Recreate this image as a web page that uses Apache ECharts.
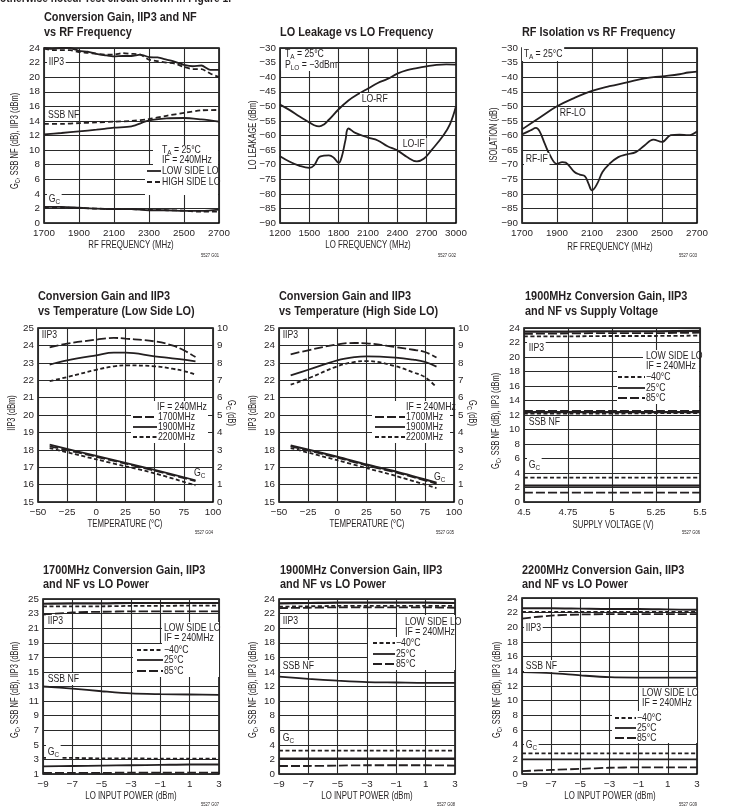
<!DOCTYPE html>
<html><head><meta charset="utf-8"><title>Typical performance curves</title>
<script src="https://cdn.jsdelivr.net/npm/echarts@6.0.0/dist/echarts.min.js"></script>
<style>html,body{margin:0;padding:0;background:#fff;}#chart{width:752px;height:807px;}</style>
</head><body><div id="chart"></div>
<script>
// ================= DATA =================
// Panel 1: Conversion Gain, IIP3 and NF vs RF Frequency
const p1IipX   = [1700,1750,1800,1850,1900,1950,2000,2050,2100,2150,2200,2250,2300,2350,2400,2450,2500,2550,2600,2650,2700];
const p1IipLow = [24.0,23.87,24.0,24.0,23.6,23.5,23.2,23.0,22.85,22.9,22.9,23.1,22.75,22.7,22.4,22.1,21.7,21.5,21.6,21.0,21.0];
const p1IipHigh= [23.9,23.7,23.7,23.7,23.45,23.35,23.2,23.1,23.1,23.3,23.2,23.1,22.4,22.2,22.0,21.85,21.4,21.1,21.1,20.5,20.0];
const p1X      = [1700,1800,1900,2000,2100,2200,2300,2400,2500,2600,2700];
const p1NfLow  = [12.16,12.34,12.57,12.8,13.07,13.26,14.06,14.35,14.4,14.2,13.9];
const p1NfHigh = [13.6,13.6,13.7,13.8,13.9,14.0,14.26,14.7,15.1,15.45,15.5];
const p1GcLow  = [2.2,2.2,2.1,1.97,1.9,1.9,1.75,1.75,1.65,1.65,1.83];
const p1GcHigh = [2.1,2.1,2.05,1.97,1.92,1.9,1.83,1.75,1.7,1.55,1.55];
// Panel 2: LO Leakage vs LO Frequency
const p2RfX  = [1200,1300,1400,1500,1550,1600,1650,1700,1800,1900,2000,2100,2200,2300,2400,2500,2600,2700,2800,2900,3000];
const p2LoRf = [-49.4,-51.3,-53.5,-55.5,-56.5,-56.9,-56.2,-54.6,-51.0,-48.0,-45.8,-43.9,-42.0,-40.6,-38.8,-37.6,-36.9,-36.3,-35.8,-35.6,-35.7];
const p2IfX  = [1200,1300,1400,1500,1550,1600,1650,1700,1750,1800,1830,1870,1900,1970,2100,2200,2300,2400,2500,2600,2670,2750,2870,2940,3000];
const p2LoIf = [-67.1,-69.0,-70.4,-71.1,-70.2,-67.4,-66.9,-66.8,-67.6,-69.4,-67.5,-61.5,-57.6,-59.1,-60.7,-61.7,-63.7,-65.1,-67.4,-68.9,-68.0,-65.0,-60.0,-56.0,-50.0];
// Panel 3: RF Isolation vs RF Frequency
const p3LoX  = [1700,1800,1900,2000,2100,2200,2300,2400,2500,2600,2650,2700];
const p3RfLo = [-57.9,-53.9,-50.0,-47.1,-44.7,-43.1,-41.8,-40.4,-39.7,-39.0,-38.4,-38.1];
const p3IfX  = [1700,1750,1780,1800,1830,1860,1900,1930,1950,2000,2030,2060,2080,2100,2130,2160,2200,2250,2300,2350,2400,2450,2500,2550,2600,2650,2700];
const p3RfIf = [-59.6,-58.2,-57.4,-58.5,-62.8,-66.8,-69.7,-69.1,-69.3,-72.5,-73.4,-74.0,-76.5,-78.8,-76.5,-72.5,-69.7,-67.4,-66.5,-65.7,-63.4,-61.4,-62.2,-59.9,-59.7,-59.9,-58.6];
// Panel 4 & 5: vs temperature
const tempX    = [-40,-25,0,15,25,50,65,75,85];
const p4Iip1700= [23.89,24.1,24.33,24.43,24.39,24.23,24.0,23.72,23.33];
const p4Iip1900= [22.9,23.14,23.43,23.58,23.58,23.37,23.26,23.18,23.08];
const p4Iip2200= [21.95,22.18,22.6,22.8,22.85,22.8,22.66,22.53,22.32];
const tempGcX  = [-40,0,25,50,85];
const p4Gc1700 = [3.2,2.6,2.2,1.8,1.2];
const p4Gc1900 = [3.3,2.65,2.25,1.85,1.25];
const p4Gc2200 = [3.1,2.45,2.05,1.65,0.95];
const p5Iip1700= [23.49,23.72,24.06,24.14,24.12,23.9,23.75,23.62,23.3];
const p5Iip1900= [22.28,22.6,23.14,23.33,23.37,23.3,23.18,23.05,22.78];
const p5Iip2200= [21.74,22.1,22.8,23.05,23.1,22.8,22.45,22.18,21.6];
const p5Gc1700 = [3.2,2.55,2.1,1.7,1.05];
const p5Gc1900 = [3.25,2.6,2.15,1.75,1.1];
const p5Gc2200 = [3.1,2.4,1.95,1.5,0.8];
// Panel 6: vs supply voltage
const voltX     = [4.5,4.75,5,5.25,5.5];
const p6IipM40  = [22.85,22.85,22.9,22.9,22.95];
const p6Iip25   = [23.5,23.5,23.55,23.55,23.6];
const p6Iip85   = [23.2,23.25,23.3,23.3,23.35];
const p6NfM40   = [12.2,12.2,12.2,12.25,12.25];
const p6Nf25    = [12.4,12.4,12.4,12.4,12.4];
const p6Nf85    = [12.55,12.55,12.55,12.55,12.55];
const p6GcM40   = [3.35,3.35,3.35,3.35,3.35];
const p6Gc25    = [2.25,2.25,2.25,2.25,2.25];
const p6Gc85    = [1.3,1.3,1.3,1.3,1.3];
// Panels 7-9: vs LO power
const loX       = [-9,-7,-5,-3,-1,1,3];
const p7IipM40  = [24.0,24.0,24.0,24.05,24.05,24.1,24.1];
const p7Iip25   = [24.35,24.4,24.4,24.45,24.45,24.45,24.45];
const p7Iip85   = [22.85,23.15,23.25,23.3,23.3,23.3,23.3];
const p7Nf25    = [13.0,12.7,12.35,12.05,11.95,11.9,11.85];
const p7GcM40   = [3.2,3.2,3.15,3.15,3.1,3.1,3.1];
const p7Gc25    = [2.05,2.1,2.15,2.2,2.25,2.3,2.3];
const p7Gc85    = [1.15,1.15,1.15,1.2,1.2,1.2,1.2];
const p8IipM40  = [22.95,23.0,23.05,23.05,23.05,23.05,23.05];
const p8Iip25   = [23.4,23.45,23.5,23.5,23.5,23.5,23.45];
const p8Iip85   = [22.75,22.8,22.85,22.85,22.85,22.85,22.8];
const p8Nf25    = [13.35,13.05,12.8,12.6,12.55,12.5,12.5];
const p8GcM40   = [3.2,3.2,3.2,3.2,3.2,3.2,3.2];
const p8Gc25    = [2.1,2.1,2.1,2.1,2.1,2.1,2.1];
const p8Gc85    = [1.1,1.1,1.15,1.2,1.2,1.2,1.15];
const p9IipM40  = [22.1,22.1,22.1,22.1,22.1,22.1,22.1];
const p9Iip25   = [22.6,22.6,22.55,22.5,22.5,22.45,22.4];
const p9Iip85   = [21.2,21.6,21.75,21.8,21.8,21.8,21.8];
const p9Nf25    = [13.9,13.75,13.45,13.2,13.15,13.15,13.15];
const p9GcM40   = [2.8,2.8,2.8,2.8,2.8,2.8,2.8];
const p9Gc25    = [2.0,2.0,2.0,2.0,2.0,2.0,2.0];
const p9Gc85    = [0.4,0.55,0.7,0.85,0.9,0.9,0.9];

// ================= STYLE =================
const FN = '"Liberation Sans",Arial,Helvetica,sans-serif';
const INK = '#231f20';
const GRIDC = '#2a2a2a';
const SOLID = 'solid', SHORT = [4,2.5], LONG = [9,3], MED = [5,3];
const LW = 1.8;
const minus = v => String(Math.round(v*1000)/1000).replace('-', '\u2212');

const grids = [
  {left:44, top:48, width:175, height:175},
  {left:280, top:48, width:176, height:175},
  {left:522, top:48, width:175, height:175},
  {left:38, top:328, width:175, height:174},
  {left:279, top:328, width:175, height:174},
  {left:524, top:328, width:176, height:174},
  {left:43, top:599, width:176, height:175},
  {left:279, top:599, width:176, height:175},
  {left:522, top:598, width:175, height:176}
].map(g => Object.assign({show:true, borderColor:'#000', borderWidth:1.5, backgroundColor:'transparent', containLabel:false}, g));

function xAx(gi, min, max, interval, off) {
  return {type:'value', gridIndex:gi, min:min-off, max:max-off, interval:interval,
    axisLine:{show:false}, axisTick:{show:false},
    axisLabel:{color:INK, fontFamily:FN, fontSize:9.8, margin:5, formatter:v => minus(v+off)},
    splitLine:{show:true, lineStyle:{color:GRIDC, width:1.1}}};
}
function yAx(gi, min, max, interval, off, extra) {
  return Object.assign({type:'value', gridIndex:gi, min:min-off, max:max-off, interval:interval,
    axisLine:{show:false}, axisTick:{show:false},
    axisLabel:{color:INK, fontFamily:FN, fontSize:9.8, margin:4, formatter:v => minus(v+off)},
    splitLine:{show:true, lineStyle:{color:GRIDC, width:1.1}}}, extra||{});
}

// offsets keep each axis' first tick on a multiple of its interval
const xAxes = [
  xAx(0,1700,2700,200,1700), xAx(1,1200,3000,300,0), xAx(2,1700,2700,200,1700),
  xAx(3,-50,100,25,0), xAx(4,-50,100,25,0), xAx(5,4.5,5.5,0.25,0),
  xAx(6,-9,3,2,-9), xAx(7,-9,3,2,-9), xAx(8,-9,3,2,-9)
];
const RIGHT = {position:'right', splitLine:{show:false}};
const yAxes = [
  yAx(0,0,24,2,0), yAx(1,-90,-30,5,0), yAx(2,-90,-30,5,0),
  yAx(3,15,25,1,0), yAx(3,0,10,1,0,RIGHT),
  yAx(4,15,25,1,0), yAx(4,0,10,1,0,RIGHT),
  yAx(5,0,24,2,0), yAx(6,1,25,2,1), yAx(7,0,24,2,0), yAx(8,0,24,2,0)
];
const xOff = [1700,0,1700,0,0,0,-9,-9,-9];
const yOff = [0,0,0,0,0,0,0,0,1,0,0];

function ser(xi, yi, xs, ys, dash, smooth, w) {
  return {type:'line', xAxisIndex:xi, yAxisIndex:yi, symbol:'none', silent:true,
    smooth: smooth===undefined ? 0.3 : smooth, z:3,
    data: xs.map((x,i) => [x - xOff[xi], ys[i] - yOff[yi]]),
    lineStyle:{color:INK, width: w || LW, type: dash}};
}

const series = [
  ser(0,0,p1IipX,p1IipLow,SOLID,0.2), ser(0,0,p1IipX,p1IipHigh,MED,0.2),
  ser(0,0,p1X,p1NfLow,SOLID), ser(0,0,p1X,p1NfHigh,MED),
  ser(0,0,p1X,p1GcLow,SOLID), ser(0,0,p1X,p1GcHigh,MED),
  ser(1,1,p2RfX,p2LoRf,SOLID,0.4), ser(1,1,p2IfX,p2LoIf,SOLID,0.4),
  ser(2,2,p3LoX,p3RfLo,SOLID,0.4), ser(2,2,p3IfX,p3RfIf,SOLID,0.4),
  ser(3,3,tempX,p4Iip1700,LONG,0.4), ser(3,3,tempX,p4Iip1900,SOLID,0.4), ser(3,3,tempX,p4Iip2200,SHORT,0.4),
  ser(3,4,tempGcX,p4Gc1700,LONG,0.3), ser(3,4,tempGcX,p4Gc1900,SOLID,0.3), ser(3,4,tempGcX,p4Gc2200,SHORT,0.3),
  ser(4,5,tempX,p5Iip1700,LONG,0.4), ser(4,5,tempX,p5Iip1900,SOLID,0.4), ser(4,5,tempX,p5Iip2200,SHORT,0.4),
  ser(4,6,tempGcX,p5Gc1700,LONG,0.3), ser(4,6,tempGcX,p5Gc1900,SOLID,0.3,2.2), ser(4,6,tempGcX,p5Gc2200,SHORT,0.3),
  ser(5,7,voltX,p6IipM40,SHORT), ser(5,7,voltX,p6Iip25,SOLID,0.3,2.2), ser(5,7,voltX,p6Iip85,LONG),
  ser(5,7,voltX,p6NfM40,SHORT), ser(5,7,voltX,p6Nf25,SOLID,0.3,2.2), ser(5,7,voltX,p6Nf85,LONG),
  ser(5,7,voltX,p6GcM40,SHORT), ser(5,7,voltX,p6Gc25,SOLID,0.3,2.2), ser(5,7,voltX,p6Gc85,LONG),
  ser(6,8,loX,p7IipM40,SHORT), ser(6,8,loX,p7Iip25,SOLID,0.3,2.2), ser(6,8,loX,p7Iip85,LONG),
  ser(6,8,loX,p7Nf25,SOLID,0.3), ser(6,8,loX,p7GcM40,SHORT), ser(6,8,loX,p7Gc25,SOLID), ser(6,8,loX,p7Gc85,LONG),
  ser(7,9,loX,p8IipM40,SHORT), ser(7,9,loX,p8Iip25,SOLID,0.3,2.2), ser(7,9,loX,p8Iip85,LONG),
  ser(7,9,loX,p8Nf25,SOLID,0.3), ser(7,9,loX,p8GcM40,SHORT), ser(7,9,loX,p8Gc25,SOLID,0.3,2.2), ser(7,9,loX,p8Gc85,LONG),
  ser(8,10,loX,p9IipM40,SHORT), ser(8,10,loX,p9Iip25,SOLID), ser(8,10,loX,p9Iip85,LONG),
  ser(8,10,loX,p9Nf25,SOLID,0.3), ser(8,10,loX,p9GcM40,SHORT), ser(8,10,loX,p9Gc25,SOLID), ser(8,10,loX,p9Gc85,LONG)
];

// ================= TEXT / ANNOTATIONS =================
const FS = 10.6, SX = 0.82;
const RICH = {a:{fontFamily:FN, fontSize:FS, fill:INK, lineHeight:13}, s:{fontFamily:FN, fontSize:7.8, fill:INK, lineHeight:8, verticalAlign:'bottom'}};
function T(x, y, text, o, sx) {
  return {type:'text', x:x, y:y, z:100, silent:true, scaleX: sx || SX,
    style:Object.assign({text:text, fill:INK, fontFamily:FN, fontSize:FS, verticalAlign:'middle', rich:RICH}, o||{})};
}
function TB(x, y, text) { return T(x, y, text, {backgroundColor:'#fff', padding:[1,2,0,2]}); }
function title(x, y, text) { return T(x, y, text, {fontSize:13.3, fontWeight:'bold'}, 0.82); }
function code(x, y, text) { return T(x, y, text, {fontSize:5, textAlign:'right'}); }
function xname(cx, cy, text) { return T(cx, cy, text, {textAlign:'center'}, 0.74); }
function yname(cx, cy, text, right) {
  const e = T(cx, cy, text, {textAlign:'center'}, 0.7);
  e.rotation = right ? -Math.PI/2 : Math.PI/2;
  return e;
}
function box(x, y, w, h) { return {type:'rect', z:90, silent:true, shape:{x:x, y:y, width:w, height:h}, style:{fill:'#fff'}}; }
function sw(x1, x2, y, dash) { return {type:'line', z:100, silent:true, shape:{x1:x1, y1:y, x2:x2, y2:y}, style:{stroke:INK, lineWidth:LW, lineDash: dash==='solid' ? null : dash}}; }
const GC = '{a|G}{s|C}';
const TA = '{a|T}{s|A}{a| = 25\u00b0C}';
const GCNAME = '{a|G}{s|C}{a|, SSB NF (dB), IIP3 (dBm)}';
const GCDB = '{a|G}{s|C}{a| (dB)}';

const graphics = [
  T(0, -1, 'otherwise noted. Test circuit shown in Figure 1.', {fontSize:12.5, fontWeight:'bold'}, 0.82),
  // titles
  title(44,17,'Conversion Gain, IIP3 and NF'), title(44,32,'vs RF Frequency'),
  title(280,32,'LO Leakage vs LO Frequency'),
  title(522,32,'RF Isolation vs RF Frequency'),
  title(38,296,'Conversion Gain and IIP3'), title(38,311,'vs Temperature (Low Side LO)'),
  title(279,296,'Conversion Gain and IIP3'), title(279,311,'vs Temperature (High Side LO)'),
  title(525,296,'1900MHz Conversion Gain, IIP3'), title(525,311,'and NF vs Supply Voltage'),
  title(43,570,'1700MHz Conversion Gain, IIP3'), title(43,584,'and NF vs LO Power'),
  title(280,570,'1900MHz Conversion Gain, IIP3'), title(280,584,'and NF vs LO Power'),
  title(522,570,'2200MHz Conversion Gain, IIP3'), title(522,584,'and NF vs LO Power'),
  // axis names
  xname(131,245,'RF FREQUENCY (MHz)'), yname(15,141,GCNAME),
  xname(368,245,'LO FREQUENCY (MHz)'), yname(253,135,'LO LEAKAGE (dBm)'),
  xname(610,247,'RF FREQUENCY (MHz)'), yname(494,135,'ISOLATION (dB)'),
  xname(125,524,'TEMPERATURE (\u00b0C)'), yname(12,413,'IIP3 (dBm)'), yname(231,413,GCDB,true),
  xname(367,524,'TEMPERATURE (\u00b0C)'), yname(253,413,'IIP3 (dBm)'), yname(472,413,GCDB,true),
  xname(613,525,'SUPPLY VOLTAGE (V)'), yname(496,421,GCNAME),
  xname(131,796,'LO INPUT POWER (dBm)'), yname(15,690,GCNAME),
  xname(367,796,'LO INPUT POWER (dBm)'), yname(253,690,GCNAME),
  xname(610,796,'LO INPUT POWER (dBm)'), yname(497,690,GCNAME),
  // panel 1
  TB(47,62,'IIP3'), T(48,115,'SSB NF'), TB(47,199,GC),
  box(153,145,65,20), box(145,165,73,30),
  T(162,150,TA), T(162,160,'IF = 240MHz'),
  sw(147,161,171,SOLID), T(162,171,'LOW SIDE LO'),
  sw(147,161,182,MED), T(162,182,'HIGH SIDE LO'),
  code(219,256,'5527 G01'),
  // panel 2
  box(281,49,55,22),
  T(285,54,TA), T(285,65,'{a|P}{s|LO}{a| = \u22123dBm}'),
  TB(360,99,'LO-RF'), TB(401,144,'LO-IF'),
  code(456,256,'5527 G02'),
  // panel 3
  TB(522,54,TA), TB(558,113,'RF-LO'), TB(524,159,'RF-IF'),
  code(697,256,'5527 G03'),
  // panel 4
  TB(40,335,'IIP3'),
  box(131,401,77,42),
  T(157,407,'IF = 240MHz'),
  sw(133,157,417,LONG), T(158,417,'1700MHz'),
  sw(133,157,427,SOLID), T(158,427,'1900MHz'),
  sw(133,157,437,SHORT), T(158,437,'2200MHz'),
  T(194,473,GC),
  code(213,533,'5527 G04'),
  // panel 5
  TB(281,335,'IIP3'),
  box(372,401,78,42),
  T(406,407,'IF = 240MHz'),
  sw(375,405,417,LONG), T(406,417,'1700MHz'),
  sw(375,405,427,SOLID), T(406,427,'1900MHz'),
  sw(375,405,437,SHORT), T(406,437,'2200MHz'),
  T(434,477,GC),
  code(454,533,'5527 G05'),
  // panel 6
  TB(527,348,'IIP3'), TB(527,422,'SSB NF'), TB(527,465,GC),
  box(643,350,56,22), box(617,371,82,33),
  T(646,356,'LOW SIDE LO'), T(646,366,'IF = 240MHz'),
  sw(618,645,377,SHORT), T(646,377,'\u221240\u00b0C'),
  sw(618,645,388,SOLID), T(646,388,'25\u00b0C'),
  sw(618,645,398,LONG), T(646,398,'85\u00b0C'),
  code(700,533,'5527 G06'),
  // panel 7
  TB(46,621,'IIP3'), TB(46,679,'SSB NF'), TB(46,752,GC),
  box(162,622,57,22), box(133,644,86,33),
  T(164,628,'LOW SIDE LO'), T(164,638,'IF = 240MHz'),
  sw(137,163,650,SHORT), T(164,650,'\u221240\u00b0C'),
  sw(137,163,660,SOLID), T(164,660,'25\u00b0C'),
  sw(137,163,671,LONG), T(164,671,'85\u00b0C'),
  code(219,805,'5527 G07'),
  // panel 8
  TB(281,621,'IIP3'), TB(281,666,'SSB NF'), TB(281,738,GC),
  box(397,615,58,22), box(368,637,87,33),
  T(405,622,'LOW SIDE LO'), T(405,632,'IF = 240MHz'),
  sw(373,395,643,SHORT), T(396,643,'\u221240\u00b0C'),
  sw(373,395,654,SOLID), T(396,654,'25\u00b0C'),
  sw(373,395,664,LONG), T(396,664,'85\u00b0C'),
  code(455,805,'5527 G08'),
  // panel 9
  TB(524,628,'IIP3'), TB(524,666,'SSB NF'), TB(524,745,GC),
  box(639,687,58,24), box(612,711,85,32),
  T(642,693,'LOW SIDE LO'), T(642,703,'IF = 240MHz'),
  sw(615,636,718,SHORT), T(637,718,'\u221240\u00b0C'),
  sw(615,636,728,SOLID), T(637,728,'25\u00b0C'),
  sw(615,636,738,LONG), T(637,738,'85\u00b0C'),
  code(697,805,'5527 G09')
];

const chart = echarts.init(document.getElementById('chart'), null, {renderer:'canvas'});
chart.setOption({
  animation:false,
  backgroundColor:'#fff',
  grid: grids,
  xAxis: xAxes,
  yAxis: yAxes,
  series: series,
  graphic: graphics
});
</script></body></html>
